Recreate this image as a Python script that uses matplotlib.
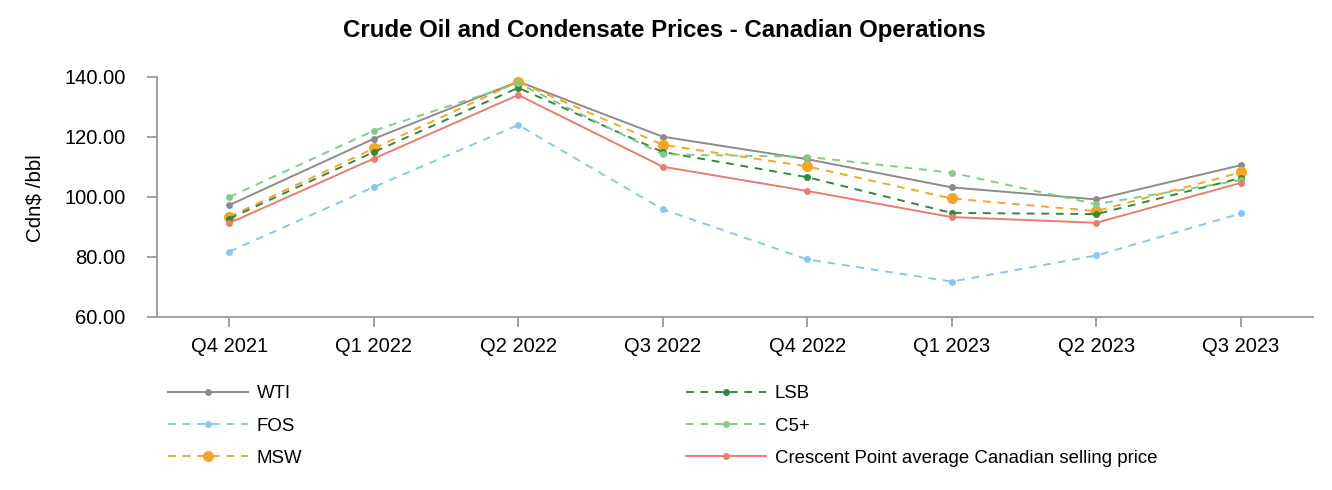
import matplotlib
matplotlib.use("Agg")
import matplotlib.pyplot as plt
from matplotlib.legend import Legend

plt.rcParams['font.family'] = ['Liberation Sans', 'DejaVu Sans']

quarters = ["Q4 2021", "Q1 2022", "Q2 2022", "Q3 2022", "Q4 2022", "Q1 2023", "Q2 2023", "Q3 2023"]
wti = [97.3, 119.4, 138.5, 120.1, 112.6, 103.2, 99.2, 110.6]
fos = [81.8, 103.3, 124.0, 95.9, 79.2, 71.8, 80.5, 94.5]
msw = [93.4, 116.2, 138.4, 117.4, 110.2, 99.5, 95.3, 108.2]
lsb = [92.8, 115.0, 136.4, 115.0, 106.6, 94.7, 94.3, 106.3]
c5 = [100.0, 122.1, 137.9, 114.2, 113.4, 108.1, 97.6, 105.6]
cpg = [91.3, 112.8, 134.0, 110.1, 102.0, 93.3, 91.4, 104.7]

names = ["WTI", "FOS", "MSW", "LSB", "C5+", "Crescent Point average Canadian selling price"]
series = [wti, fos, msw, lsb, c5, cpg]
colors = ["#8c8c8c", "#85c8f5", "#f5a623", "#2f8a3b", "#82cc88", "#e87e6e"]
styles = ["-", (0, (4, 3.5)), (0, (4, 3.5)), (0, (4, 3.5)), (0, (4, 3.5)), "-"]
msizes = [5, 5, 8, 5, 5, 5]

fig = plt.figure(figsize=(13.32, 4.90), dpi=100)
ax = fig.add_axes([157/1332, 1-317/490, (1313-157)/1332, (317-77)/490])

x = list(range(len(quarters)))
handles = []
for name, vals, c, ls, ms in zip(names, series, colors, styles, msizes):
    h, = ax.plot(x, vals, color=c, linestyle=ls, linewidth=1.4, marker='o',
                 markersize=ms, markeredgewidth=0, label=name)
    handles.append(h)

ax.set_xlim(-0.5, 7.5)
ax.set_ylim(60, 140)
ax.set_xticks(x)
ax.set_xticklabels(quarters)
ax.set_yticks([60, 80, 100, 120, 140])
ax.set_yticklabels([f"{v:.2f}" for v in [60, 80, 100, 120, 140]])
for s in ['top', 'right']:
    ax.spines[s].set_visible(False)
for s in ['left', 'bottom']:
    ax.spines[s].set_color('#a0a0a0')
    ax.spines[s].set_linewidth(1.4)
ax.tick_params(axis='both', colors='#a0a0a0', length=7.5, width=1.4, labelsize=14.5, labelcolor='black')
ax.tick_params(axis='y', pad=15)
ax.tick_params(axis='x', pad=7)

fig.text(664/1332, 1-30/490, "Crude Oil and Condensate Prices - Canadian Operations",
         ha='center', va='center', fontsize=17.3, fontweight='bold')
fig.text(35/1332, 1-198/490, "Cdn$ /bbl", rotation=90, ha='center', va='center', fontsize=14.8)

common = dict(frameon=False, handlelength=4.3, handletextpad=0.48, labelspacing=0.83,
              borderpad=0, borderaxespad=0, numpoints=1, fontsize=13.4, loc='upper left')
leg1 = Legend(fig, handles[:3], names[:3], bbox_to_anchor=(168/1332, 1-385/490), **common)
leg2 = Legend(fig, handles[3:], names[3:], bbox_to_anchor=(686/1332, 1-385/490), **common)
fig.add_artist(leg1)
fig.add_artist(leg2)

fig.savefig("out.png", dpi=100)
